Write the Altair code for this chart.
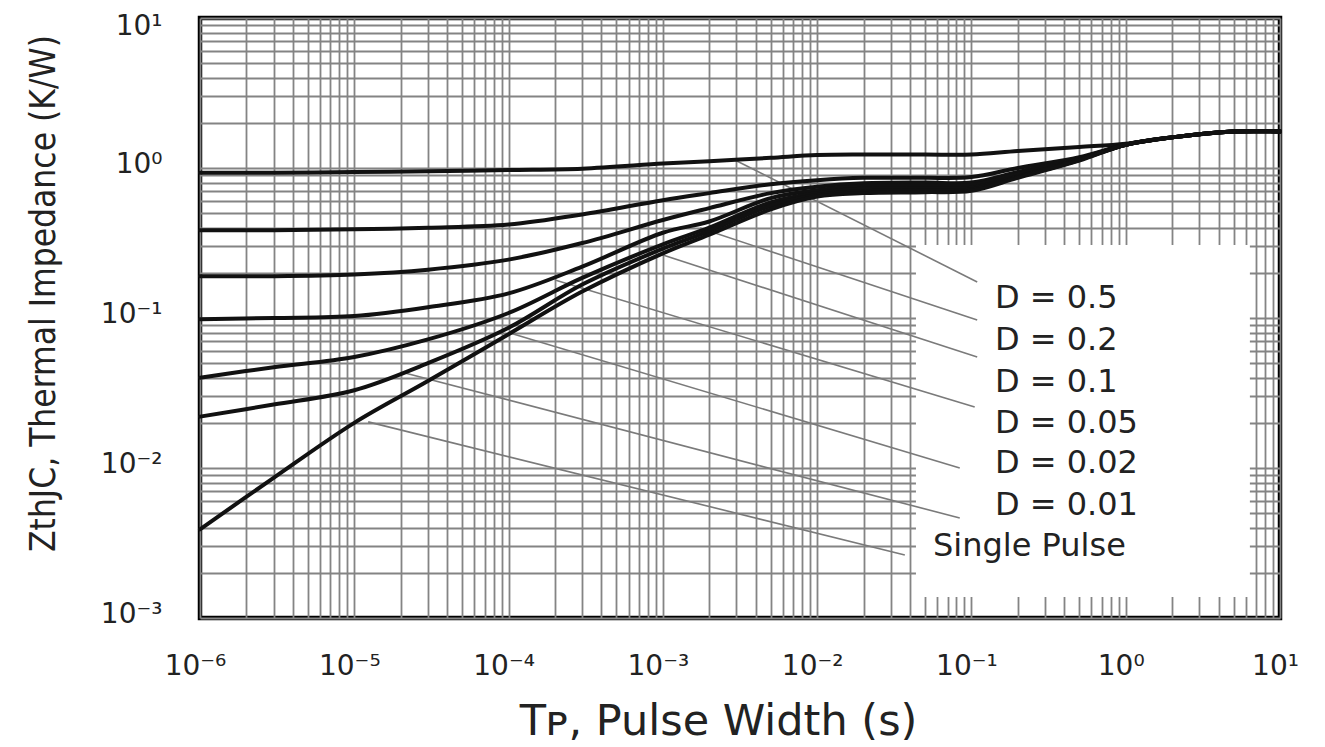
import altair as alt
import pandas as pd

# Pulse width (s) sample points
T = [1e-6, 3e-6, 1e-5, 3e-5, 1e-4, 3e-4, 1e-3, 2e-3, 5e-3, 1e-2,
     2e-2, 5e-2, 1e-1, 2e-1, 5e-1, 1.0, 2.0, 5.0, 10.0]

# ZthJC (K/W) for each duty cycle
Z_D05 = [0.93, 0.93, 0.94, 0.95, 0.97, 0.99, 1.07, 1.11, 1.17, 1.22,
         1.23, 1.23, 1.23, 1.30, 1.38, 1.45, 1.60, 1.75, 1.75]
Z_D02 = [0.385, 0.385, 0.39, 0.40, 0.42, 0.49, 0.61, 0.68, 0.78, 0.83,
         0.86, 0.86, 0.87, 1.00, 1.18, 1.43, 1.60, 1.75, 1.75]
Z_D01 = [0.19, 0.19, 0.195, 0.21, 0.245, 0.316, 0.45, 0.54, 0.68, 0.75,
         0.79, 0.80, 0.80, 0.94, 1.16, 1.43, 1.60, 1.75, 1.75]
Z_D005 = [0.098, 0.10, 0.103, 0.118, 0.146, 0.22, 0.37, 0.44, 0.63, 0.71,
          0.76, 0.76, 0.77, 0.91, 1.15, 1.43, 1.60, 1.75, 1.75]
Z_D002 = [0.040, 0.047, 0.055, 0.072, 0.108, 0.185, 0.31, 0.40, 0.59, 0.68,
          0.73, 0.73, 0.74, 0.88, 1.14, 1.43, 1.60, 1.75, 1.75]
Z_D001 = [0.022, 0.0265, 0.033, 0.050, 0.086, 0.167, 0.29, 0.38, 0.56, 0.66,
          0.70, 0.71, 0.72, 0.87, 1.13, 1.43, 1.60, 1.75, 1.75]
Z_SINGLE = [0.0039, 0.0086, 0.020, 0.038, 0.078, 0.15, 0.27, 0.36, 0.53, 0.645,
            0.68, 0.69, 0.705, 0.86, 1.12, 1.43, 1.60, 1.75, 1.75]

SERIES = ["D = 0.5", "D = 0.2", "D = 0.1", "D = 0.05", "D = 0.02", "D = 0.01", "Single Pulse"]
CURVES = [Z_D05, Z_D02, Z_D01, Z_D005, Z_D002, Z_D001, Z_SINGLE]

# Legend labels and their leader lines (data coordinates)
LABEL_T = [0.142, 0.142, 0.142, 0.142, 0.142, 0.142, 0.0564]
LABEL_Z = [0.136, 0.0713, 0.0374, 0.020, 0.0108, 0.00567, 0.00302]
LEADER_T_START = [2.93e-3, 1.74e-3, 9.57e-4, 2.0e-4, 1.02e-4, 2.13e-5, 1.23e-5]
LEADER_Z_START = [1.13, 0.398, 0.267, 0.179, 0.0794, 0.043, 0.0203]
LEADER_T_END = [0.109, 0.109, 0.109, 0.105, 0.084, 0.084, 0.037]
LEADER_Z_END = [0.174, 0.097, 0.055, 0.0255, 0.010, 0.00464, 0.00263]

# White legend backdrop extent
BOX_T = [0.0437, 6.38]
BOX_Z = [0.00138, 0.307]

# Axis tick values (grid at every 1..9 x 10^k)
X_TICKS = [float(f"{m}e{k}") for k in range(-6, 1) for m in range(1, 10)] + [10.0]
Y_TICKS = [float(f"{m}e{k}") for k in range(-3, 1) for m in range(1, 10)] + [10.0]

X_LABEL_EXPR = ("datum.value == 1e-6 ? '10⁻⁶' : datum.value == 1e-5 ? '10⁻⁵' : "
                "datum.value == 1e-4 ? '10⁻⁴' : datum.value == 1e-3 ? '10⁻³' : "
                "datum.value == 1e-2 ? '10⁻²' : datum.value == 1e-1 ? '10⁻¹' : "
                "datum.value == 1 ? '10⁰' : datum.value == 10 ? '10¹' : ''")
Y_LABEL_EXPR = ("datum.value == 1e-3 ? '10⁻³' : datum.value == 1e-2 ? '10⁻²' : "
                "datum.value == 1e-1 ? '10⁻¹' : datum.value == 1 ? '10⁰' : "
                "datum.value == 10 ? '10¹' : ''")

rows = []
for name, zs in zip(SERIES, CURVES):
    for t, z in zip(T, zs):
        rows.append({"series": name, "t": t, "z": z})
curves_df = pd.DataFrame(rows)

labels_df = pd.DataFrame({"label": SERIES, "t": LABEL_T, "z": LABEL_Z})
leaders_df = pd.DataFrame({"t": LEADER_T_START, "z": LEADER_Z_START,
                           "t2": LEADER_T_END, "z2": LEADER_Z_END})
box_df = pd.DataFrame({"t": [BOX_T[0]], "t2": [BOX_T[1]], "z": [BOX_Z[0]], "z2": [BOX_Z[1]]})

xscale = alt.Scale(type="log", domain=[1e-6, 10], nice=False)
yscale = alt.Scale(type="log", domain=[1e-3, 10], nice=False)

grid_color = "#848484"
xaxis = alt.Axis(values=X_TICKS, labelExpr=X_LABEL_EXPR, labelOverlap=False,
                 labelFlush=False,
                 grid=True, gridColor=grid_color, gridWidth=1.8, gridOpacity=1,
                 ticks=False, domain=False, labelFont="DejaVu Sans", labelFontSize=28,
                 labelColor="#222", labelPadding=34, labelBaseline="top", labelOffset=-5,
                 title="Tᴘ, Pulse Width (s)", titleFont="DejaVu Sans", titleFontSize=43,
                 titleFontWeight="normal", titleColor="#222", titleX=518, titleY=116,
                 titleAnchor="middle", titleAlign="center", titleBaseline="alphabetic")
yaxis = alt.Axis(values=Y_TICKS, labelExpr=Y_LABEL_EXPR, labelOverlap=False,
                 labelFlush=False,
                 grid=True, gridColor=grid_color, gridWidth=1.8, gridOpacity=1,
                 ticks=False, domain=False, labelFont="DejaVu Sans", labelFontSize=28,
                 labelColor="#222", labelPadding=38,
                 labelOffset={"condition": {"test": "datum.value == 10", "value": 8},
                              "value": -4},
                 title="ZthJC, Thermal Impedance (K/W)",
                 titleFont="DejaVu Sans Condensed",
                 titleFontSize=35, titleFontWeight="normal", titleColor="#222",
                 titleAngle=-90, titleX=-146, titleY=275, titleAlign="center",
                 titleBaseline="alphabetic")

X = alt.X("t:Q", scale=xscale, axis=xaxis)
Y = alt.Y("z:Q", scale=yscale, axis=yaxis)

box = alt.Chart(box_df).mark_rect(fill="white").encode(
    x=X, x2="t2:Q", y=Y, y2="z2:Q",
)

leaders = alt.Chart(leaders_df).mark_rule(color="#7a7a7a", strokeWidth=1.6).encode(
    x=X, x2="t2:Q", y=Y, y2="z2:Q",
)

lines = alt.Chart(curves_df).mark_line(color="#111", strokeWidth=4,
                                       interpolate="catmull-rom",
                                       strokeCap="round", strokeJoin="round").encode(
    x=X, y=Y, detail="series:N",
)

texts = alt.Chart(labels_df).mark_text(align="left", baseline="middle",
                                       font="DejaVu Sans", fontSize=32,
                                       color="#222").encode(
    x=X, y=Y, text="label:N",
)

chart = alt.layer(box, leaders, lines, texts).properties(
    width=1080, height=600,
    autosize=alt.AutoSizeParams(type="none"),
    padding={"left": 192, "top": 10, "right": 30, "bottom": 127},
).configure_view(stroke="black", strokeWidth=4.5)

chart.save("out.html", embed_options={"renderer": "svg", "actions": False})
